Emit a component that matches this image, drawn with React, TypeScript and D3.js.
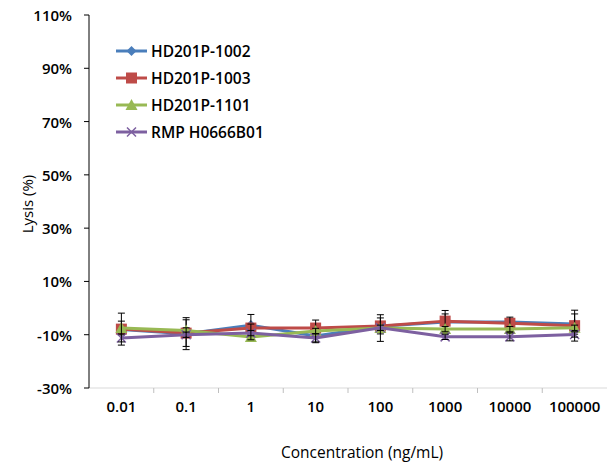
import { useMemo } from "react";
import * as d3 from "d3";

const concentrations = ["0.01", "0.1", "1", "10", "100", "1000", "10000", "100000"];
const yTicks = [-30, -10, 10, 30, 50, 70, 90, 110];

const seriesNames = ["HD201P-1002", "HD201P-1003", "HD201P-1101", "RMP H0666B01"];
const seriesColors = ["#4A7EBB", "#BE4B48", "#98B954", "#7D60A0"];
const seriesMarkers = ["diamond", "square", "triangle", "cross"];

const lysis1002 = [-8.0, -9.6, -6.4, -10.5, -6.8, -5.2, -5.2, -6.0];
const lysis1003 = [-7.9, -9.4, -7.5, -7.5, -6.7, -4.9, -5.7, -6.6];
const lysis1101 = [-7.5, -8.4, -10.9, -8.6, -7.5, -7.9, -7.9, -7.4];
const lysisRmp = [-11.2, -10.0, -9.4, -11.2, -7.4, -10.8, -10.8, -9.9];

const err1002 = [1.0, 6.0, 4.0, 2.5, 1.5, 3.0, 1.0, 3.8];
const err1003 = [6.0, 5.0, 1.5, 3.0, 3.0, 4.0, 2.3, 5.8];
const err1101 = [2.6, 1.0, 1.0, 1.0, 5.0, 1.0, 1.0, 1.0];
const errRmp = [1.5, 1.0, 1.0, 1.5, 1.0, 1.0, 1.5, 1.0];

const seriesValues = [lysis1002, lysis1003, lysis1101, lysisRmp];
const seriesErrors = [err1002, err1003, err1101, errRmp];

const W = 611;
const H = 463;
const margin = { left: 89, right: 4, top: 15, bottom: 75 };
const font = "'Open Sans', 'Noto Sans', sans-serif";

function Marker({ kind, color }: { kind: string; color: string }) {
  if (kind === "diamond") {
    return <path d="M0,-5 L5,0 L0,5 L-5,0 Z" fill={color} />;
  }
  if (kind === "square") {
    return <rect x={-5.5} y={-5.5} width={11} height={11} fill={color} />;
  }
  if (kind === "triangle") {
    return <path d="M0,-6 L6,5 L-6,5 Z" fill={color} />;
  }
  return (
    <path d="M-4.5,-4.5 L4.5,4.5 M-4.5,4.5 L4.5,-4.5" stroke={color} strokeWidth={1.5} fill="none" />
  );
}

export default function App() {
  const x = useMemo(
    () => d3.scaleBand().domain(concentrations).range([margin.left, W - margin.right]),
    []
  );
  const y = useMemo(
    () => d3.scaleLinear().domain([-30, 110]).range([H - margin.bottom, margin.top]),
    []
  );
  const cx = (c: string) => (x(c) ?? 0) + x.bandwidth() / 2;
  const line = d3
    .line<number>()
    .x((_, i) => cx(concentrations[i]))
    .y((v) => y(v));
  const x0 = margin.left;
  const xEnd = W - margin.right;
  const yBase = y(-30);

  return (
    <svg
      width={W}
      height={H}
      viewBox={`0 0 ${W} ${H}`}
      style={{ position: "absolute", left: 0, top: 0, background: "#fff" }}
    >
      {/* x axis */}
      <line x1={x0} x2={xEnd} y1={yBase} y2={yBase} stroke="#D9D9D9" />
      {concentrations.slice(1).map((c) => (
        <line key={c} x1={x(c)} x2={x(c)} y1={yBase} y2={yBase + 5} stroke="#BFBFBF" />
      ))}
      {concentrations.map((c) => (
        <text
          key={c}
          x={cx(c)}
          y={406}
          textAnchor="middle"
          dominantBaseline="central"
          fontFamily={font}
          fontWeight={600}
          fontSize={15}
          fill="#000"
        >
          {c}
        </text>
      ))}
      <text
        x={362}
        y={452}
        textAnchor="middle"
        dominantBaseline="central"
        fontFamily={font}
        fontSize={15.5}
        fill="#000"
      >
        Concentration (ng/mL)
      </text>

      {/* y axis */}
      <line x1={x0} x2={x0} y1={y(110)} y2={yBase} stroke="#000" />
      {yTicks.map((t) => (
        <g key={t}>
          <line x1={x0 - 5} x2={x0} y1={y(t)} y2={y(t)} stroke="#000" />
          <text
            x={72}
            y={y(t)}
            textAnchor="end"
            dominantBaseline="central"
            fontFamily={font}
            fontWeight={600}
            fontSize={15}
            fill="#000"
          >
            {`${t}%`}
          </text>
        </g>
      ))}
      <text
        transform={`translate(27,${204}) rotate(-90)`}
        textAnchor="middle"
        dominantBaseline="central"
        fontFamily={font}
        fontSize={15}
        fill="#000"
      >
        Lysis (%)
      </text>

      {/* series */}
      {seriesValues.map((vals, s) => (
        <g key={seriesNames[s]}>
          <path d={line(vals) ?? ""} fill="none" stroke={seriesColors[s]} strokeWidth={3} strokeLinejoin="round" />
          {vals.map((v, i) => (
            <g key={i} transform={`translate(${cx(concentrations[i])},${y(v)})`}>
              <Marker kind={seriesMarkers[s]} color={seriesColors[s]} />
            </g>
          ))}
          {vals.map((v, i) => {
            const px = cx(concentrations[i]);
            const hi = y(v + seriesErrors[s][i]);
            const lo = y(v - seriesErrors[s][i]);
            return (
              <g key={`e${i}`} stroke="#000" strokeWidth={1}>
                <line x1={px} x2={px} y1={hi} y2={lo} />
                <line x1={px - 3.5} x2={px + 3.5} y1={hi} y2={hi} />
                <line x1={px - 3.5} x2={px + 3.5} y1={lo} y2={lo} />
              </g>
            );
          })}
        </g>
      ))}

      {/* legend */}
      {seriesNames.map((name, s) => {
        const ly = 51 + s * 27;
        return (
          <g key={name}>
            <line x1={116} x2={147} y1={ly} y2={ly} stroke={seriesColors[s]} strokeWidth={3} />
            <g transform={`translate(131.5,${ly})`}>
              <Marker kind={seriesMarkers[s]} color={seriesColors[s]} />
            </g>
            <text
              x={151}
              y={ly}
              dominantBaseline="central"
              fontFamily={font}
              fontWeight={600}
              fontSize={15.5}
              fill="#000"
            >
              {name}
            </text>
          </g>
        );
      })}
    </svg>
  );
}
